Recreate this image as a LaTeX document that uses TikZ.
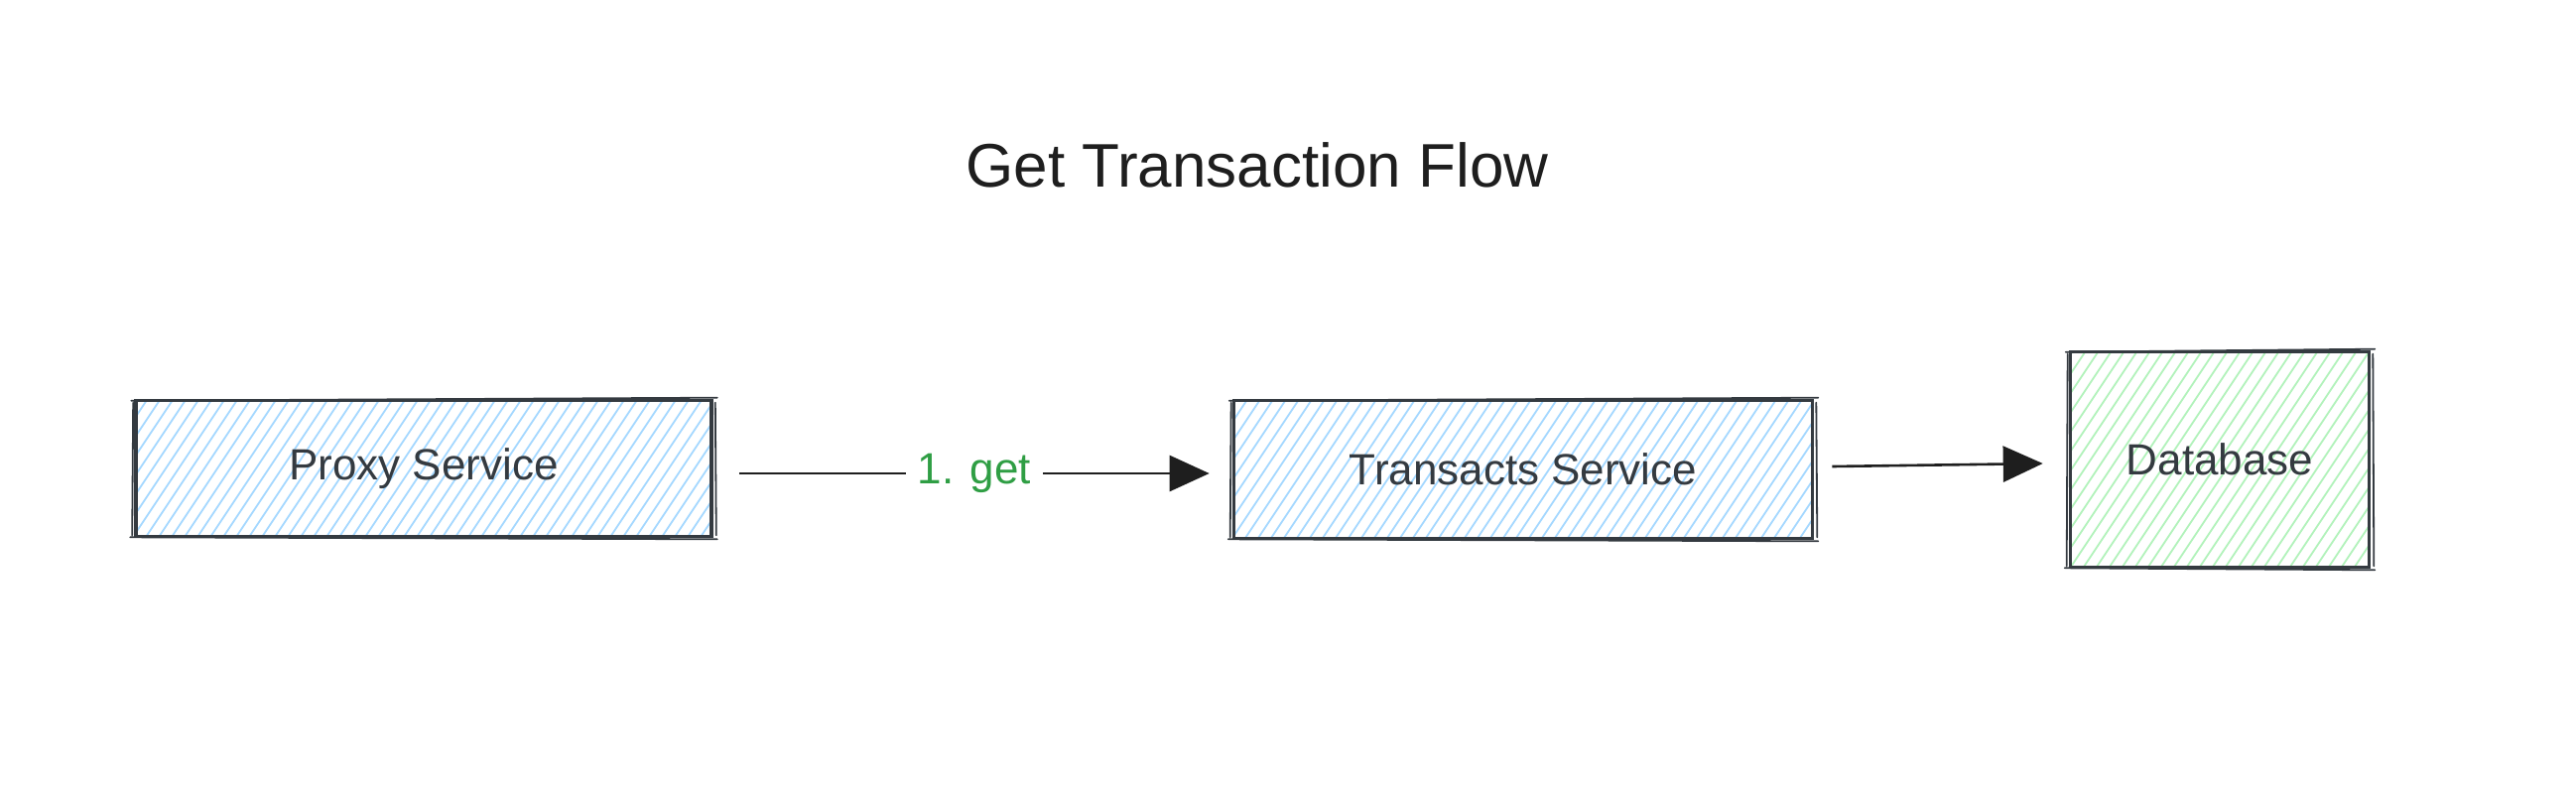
\documentclass[tikz,border=0pt]{standalone}
\usepackage{fontspec}
\setmainfont{Liberation Sans}
\usetikzlibrary{arrows.meta,calc}
\definecolor{ink}{HTML}{1E1E1E}
\definecolor{boxink}{HTML}{343A40}
\definecolor{hblue}{HTML}{A5D8FF}
\definecolor{hgreen}{HTML}{B2F2BB}
\definecolor{lblgreen}{HTML}{2F9E44}
\tikzset{
  hatchfill/.style={path picture={
    \foreach \k in {-60,...,60}{
      \draw[#1,line width=1.8pt]
        ([xshift=\k*13pt]path picture bounding box.center) ++(-200pt,-300pt) -- ++(400pt,600pt);
    }}},
  sbox/.style={draw=boxink,line width=3.6pt,inner sep=0pt,text=boxink,
    font=\fontsize{44}{50}\selectfont,
    append after command={
      \pgfextra{\draw[boxink,line width=1.8pt,line cap=round]
        ([shift={(-3pt,-2pt)}]\tikzlastnode.north west) -- ([shift={(4pt,1pt)}]\tikzlastnode.north east)
        ([shift={(2pt,-4pt)}]\tikzlastnode.north east) -- ([shift={(3pt,3pt)}]\tikzlastnode.south east)
        ([shift={(4pt,-1pt)}]\tikzlastnode.south east) -- ([shift={(-4pt,1pt)}]\tikzlastnode.south west)
        ([shift={(-2pt,3pt)}]\tikzlastnode.south west) -- ([shift={(-1pt,-4pt)}]\tikzlastnode.north west);}
    }},
  arr/.style={draw=ink,line width=2.6pt,-{Triangle[length=40pt,width=36pt]}},
  lbl/.style={fill=white,text=lblgreen,inner xsep=12pt,inner ysep=2pt,font=\fontsize{44}{50}\selectfont},
  ttl/.style={text=ink,font=\fontsize{62}{70}\selectfont}
}
\begin{document}
\begin{tikzpicture}[x=1pt,y=-1pt]
\useasboundingbox (0,0) rectangle (2596,796);
\node[ttl] (title) at (1267,166) {Get Transaction Flow};
\node[sbox,hatchfill=hblue,minimum width=580pt,minimum height=137pt] (proxy) at (427,472) {Proxy Service};
\node[sbox,hatchfill=hblue,minimum width=583pt,minimum height=139pt] (trans) at (1535,473) {Transacts Service};
\node[sbox,hatchfill=hgreen,minimum width=301pt,minimum height=217pt] (db) at (2237,463) {Database};
\draw[arr] ([shift={(26pt,-5pt)}]proxy.east) -- node[lbl] (get) {1. get} ([shift={(-23pt,-4pt)}]trans.west);
\draw[arr] ([shift={(18pt,3pt)}]trans.east) -- ([shift={(-26pt,-4pt)}]db.west);
\end{tikzpicture}
\end{document}
